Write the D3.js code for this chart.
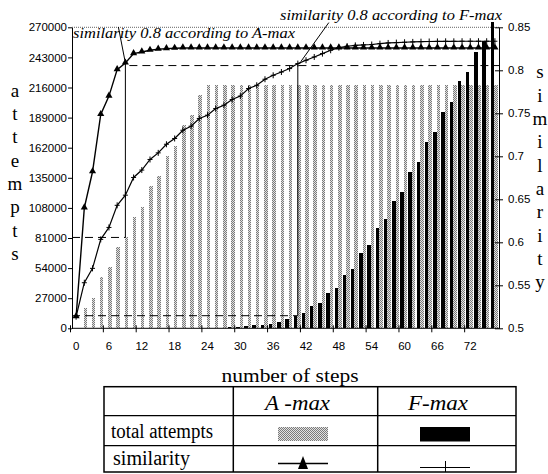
<!DOCTYPE html>
<html><head><meta charset="utf-8">
<script src="https://cdn.jsdelivr.net/npm/d3@7"></script>
<style>body{margin:0;background:#fff}svg{display:block}</style>
</head><body>
<svg id="c" width="548" height="474"></svg>
<script>
// ---------- data ----------
const steps = [0,1.5,3,4.5,6,7.5,9,10.5,12,13.5,15,16.5,18,19.5,21,22.5,24,25.5,27,28.5,30,31.5,33,34.5,36,37.5,39,40.5,42,43.5,45,46.5,48,49.5,51,52.5,54,55.5,57,58.5,60,61.5,63,64.5,66,67.5,69,70.5,72,73.5,75,76.5];
const xTickLabels = [0,6,12,18,24,30,36,42,48,54,60,66,72];
const attemptTicks = [0,27000,54000,81000,108000,135000,162000,189000,216000,243000,270000];
const simTicks = [0.5,0.55,0.6,0.65,0.7,0.75,0.8,0.85];
const seriesNames = ["A-max","F-max"];
const aMaxAttempts = [0,18500,27400,45700,54700,72700,81500,100100,109100,127700,136600,154500,163700,182400,191300,209300,
  218000,218000,218000,218000,218000,218000,218000,218000,218000,218000,218000,218000,218000,218000,218000,218000,218000,218000,
  218000,218000,218000,218000,218000,218000,218000,218000,218000,218000,218000,218000,218000,218000,218000,218000,218000,218000];
const fMaxAttempts = [0,0,0,0,0,0,0,0,0,0,0,0,0,0,0,300,400,500,600,800,
  1400,2300,2700,3200,4200,6000,8100,11300,13400,20000,23000,31900,36400,47500,53500,67300,75000,89700,98000,114200,
  122600,140300,148900,167400,175800,193700,203200,221800,230100,248100,257700,275000];
const aMaxSim = [0.5135,0.640,0.682,0.7486,0.770,0.8008,0.8085,0.8194,0.8213,0.8233,0.8245,0.8252,0.8256,
  0.826,0.826,0.826,0.826,0.826,0.826,0.826,0.826,0.826,0.826,0.826,0.826,0.826,0.826,0.826,0.826,0.826,
  0.826,0.826,0.826,0.826,0.826,0.826,0.826,0.826,0.826,0.826,0.826,0.826,0.826,0.826,0.826,0.826,0.826,0.826,0.826,0.826,0.826,0.826];
const fMaxSim = [0.5135,0.553,0.5697,0.6034,0.6173,0.643,0.6548,0.6754,0.684,0.6963,0.704,0.714,0.7207,0.7303,0.735,0.744,
  0.7478,0.7555,0.7594,0.766,0.770,0.7788,0.7826,0.7896,0.7942,0.798,0.802,0.8078,0.8117,0.8155,0.8194,0.8233,0.8264,0.828,
  0.829,0.8295,0.830,0.831,0.8318,0.8322,0.8326,0.833,0.8333,0.8335,0.8336,0.8337,0.8337,0.8338,0.8338,0.8338,0.8338,0.8338];
const markA = 6, markF = 27;      // steps where similarity 0.8 is reached
const markSimLevel = 0.8055;

// ---------- setup ----------
const svg = d3.select("#c");
const sans = "'Liberation Sans', Arial, sans-serif";
const serif = "'Liberation Serif', 'Times New Roman', serif";
const L = 72, R = 499, T = 27.3, B = 328.3;

const idx = d3.range(steps.length);
const x0 = d3.scaleBand().domain(idx).range([L, R]).padding(0);
const bw = x0.bandwidth();
const cx = i => x0(i) + bw / 2;
const x1 = d3.scaleBand().domain(["F-max","A-max"]).range([-0.2, 6.8]);
const yL = d3.scaleLinear().domain([0, 270000]).range([B, T]);
const yR = d3.scaleLinear().domain([0.5, 0.85]).range([B, T]);

// pattern for A-max bars
const defs = svg.append("defs");
const pat = defs.append("pattern").attr("id","dith").attr("patternUnits","userSpaceOnUse")
  .attr("width",2).attr("height",2);
pat.append("rect").attr("width",2).attr("height",2).attr("fill","#e2e2e2");
pat.append("rect").attr("x",0).attr("y",0).attr("width",1).attr("height",1).attr("fill","#7a7a7a");
pat.append("rect").attr("x",1).attr("y",1).attr("width",1).attr("height",1).attr("fill","#7a7a7a");

// top dotted border
svg.append("line").attr("x1",L).attr("x2",R).attr("y1",yL(270000)).attr("y2",yL(270000))
  .attr("stroke","#666").attr("stroke-width",1).attr("stroke-dasharray","1,1");

// bars
const gBars = svg.append("g").attr("shape-rendering","crispEdges");
gBars.selectAll("rect.a").data(idx).join("rect").attr("class","a")
  .attr("x", i => x0(i) + x1("A-max")).attr("width", x1.bandwidth())
  .attr("y", i => yL(aMaxAttempts[i])).attr("height", i => yL(0) - yL(aMaxAttempts[i]))
  .attr("fill","url(#dith)");
gBars.selectAll("rect.f").data(idx).join("rect").attr("class","f")
  .attr("x", i => x0(i) + x1("F-max")).attr("width", x1.bandwidth())
  .attr("y", i => yL(fMaxAttempts[i])).attr("height", i => yL(0) - yL(fMaxAttempts[i]))
  .attr("fill","#000");

// annotation lines
const ann = svg.append("g").attr("stroke","#000").attr("fill","none").attr("stroke-width",1);
ann.append("line").attr("x1",cx(markA)).attr("x2",cx(markA))
  .attr("y1",yR(aMaxSim[markA])).attr("y2",yL(aMaxAttempts[markA]));
ann.append("line").attr("x1",L).attr("x2",cx(markA))
  .attr("y1",yL(aMaxAttempts[markA])).attr("y2",yL(aMaxAttempts[markA])).attr("stroke-dasharray","8,5");
ann.append("line").attr("x1",cx(markA)+4).attr("x2",R)
  .attr("y1",yR(markSimLevel)).attr("y2",yR(markSimLevel)).attr("stroke-dasharray","8,5");
ann.append("line").attr("x1",cx(markF)).attr("x2",cx(markF))
  .attr("y1",yR(fMaxSim[markF])).attr("y2",yL(fMaxAttempts[markF]));
ann.append("line").attr("x1",L).attr("x2",cx(markF))
  .attr("y1",yL(fMaxAttempts[markF])).attr("y2",yL(fMaxAttempts[markF])).attr("stroke-dasharray","8,5");

// similarity lines
const line = arr => d3.line().x(i => cx(i)).y(i => yR(arr[i]))(idx);
svg.append("path").attr("d", line(aMaxSim)).attr("fill","none").attr("stroke","#000").attr("stroke-width",1.4);
svg.append("path").attr("d", line(fMaxSim)).attr("fill","none").attr("stroke","#000").attr("stroke-width",1.2);
const tri = d3.symbol().type(d3.symbolTriangle).size(22);
svg.append("g").selectAll("path").data(idx).join("path")
  .attr("d", tri).attr("transform", i => `translate(${cx(i)},${yR(aMaxSim[i])-0.5})`).attr("fill","#000");
svg.append("g").attr("stroke","#000").attr("stroke-width",1).selectAll("path").data(idx).join("path")
  .attr("d", i => `M${cx(i)-2.5},${yR(fMaxSim[i])}h5M${cx(i)},${yR(fMaxSim[i])-3}v6`);

// leader lines + annotation text
svg.append("line").attr("x1",cx(markA)-7).attr("y1",yR(aMaxSim[markA])-36)
  .attr("x2",cx(markA)).attr("y2",yR(aMaxSim[markA])).attr("stroke","#000");
svg.append("line").attr("x1",cx(markF)+31).attr("y1",yR(fMaxSim[markF])-41)
  .attr("x2",cx(markF)+3).attr("y2",yR(fMaxSim[markF])-2).attr("stroke","#000");
svg.append("text").attr("x",73).attr("y",38.3).attr("font-family",serif).attr("font-style","italic")
  .attr("font-size",15).attr("textLength",222).attr("lengthAdjust","spacingAndGlyphs")
  .text("similarity 0.8 according to A-max");
svg.append("text").attr("x",280).attr("y",20).attr("font-family",serif).attr("font-style","italic")
  .attr("font-size",15).attr("textLength",222).attr("lengthAdjust","spacingAndGlyphs")
  .text("similarity 0.8 according to F-max");

// axes
const axL = svg.append("g").attr("transform",`translate(${L},0)`)
  .call(d3.axisLeft(yL).tickValues(attemptTicks).tickSizeInner(4).tickSizeOuter(0).tickPadding(1)
    .tickFormat(d3.format("d")));
const axR = svg.append("g").attr("transform",`translate(${R},0)`)
  .call(d3.axisRight(yR).tickValues(simTicks).tickSizeInner(4).tickSizeOuter(0).tickPadding(5)
    .tickFormat(d => String(+d.toFixed(2))));
axR.selectAll(".tick line").attr("x1",-4);
const axB = svg.append("g").attr("transform",`translate(0,${B})`);
axB.append("line").attr("x1",L).attr("x2",R).attr("stroke","#000");
const tickIdx = xTickLabels.map(s => steps.indexOf(s));
axB.selectAll("line.t").data(tickIdx).join("line").attr("class","t")
  .attr("x1", i => x0(i) - 1.5).attr("x2", i => x0(i) - 1.5).attr("y1",-3).attr("y2",4).attr("stroke","#000");
axB.selectAll("text").data(tickIdx).join("text")
  .attr("x", i => cx(i)).attr("y", 21.5).attr("text-anchor","middle")
  .attr("font-family",sans).attr("font-size",11.5).text(i => steps[i]);
[axL, axR].forEach(a => {
  a.selectAll("text").attr("font-family",sans).attr("font-size",11.5).attr("fill","#000");
  a.selectAll("line,path").attr("stroke","#000");
});

// axis titles as stacked letters
const title = (str, xPos, y0) => svg.append("g").selectAll("text").data(str.split("")).join("text")
  .attr("x", xPos).attr("y", (d, k) => y0 + k * 23.33).attr("text-anchor","middle")
  .attr("font-family",serif).attr("font-size",19).text(d => d);
title("attempts", 15, 96.7);
title("similarity", 540, 78.3);

svg.append("text").attr("x",290).attr("y",381.5).attr("text-anchor","middle")
  .attr("font-family",serif).attr("font-size",19).attr("textLength",137).attr("lengthAdjust","spacingAndGlyphs")
  .text("number of steps");

// legend table
const tb = svg.append("g");
const colX = [104, 233.3, 377.7, 516], rowY = [386.7, 415.7, 445.7, 472];
tb.append("rect").attr("x",colX[0]).attr("y",rowY[0]).attr("width",colX[3]-colX[0]).attr("height",rowY[3]-rowY[0])
  .attr("fill","none").attr("stroke","#000").attr("stroke-width",1.5);
[1,2].forEach(k => tb.append("line").attr("x1",colX[k]).attr("x2",colX[k]).attr("y1",rowY[0]).attr("y2",rowY[3])
  .attr("stroke","#000").attr("stroke-width",1.5));
[1,2].forEach(k => tb.append("line").attr("x1",colX[0]).attr("x2",colX[3]).attr("y1",rowY[k]).attr("y2",rowY[k])
  .attr("stroke","#000").attr("stroke-width",1.2));
tb.append("text").attr("x",297.5).attr("y",410).attr("text-anchor","middle").attr("font-family",serif)
  .attr("font-style","italic").attr("font-size",21).attr("textLength",65).attr("lengthAdjust","spacingAndGlyphs").text("A -max");
tb.append("text").attr("x",438).attr("y",410).attr("text-anchor","middle").attr("font-family",serif)
  .attr("font-style","italic").attr("font-size",21).attr("textLength",60).attr("lengthAdjust","spacingAndGlyphs").text("F-max");
tb.append("text").attr("x",111).attr("y",438.3).attr("font-family",serif).attr("font-size",20)
  .attr("textLength",102).attr("lengthAdjust","spacingAndGlyphs").text("total attempts");
tb.append("text").attr("x",113).attr("y",465).attr("font-family",serif).attr("font-size",20)
  .attr("textLength",77).attr("lengthAdjust","spacingAndGlyphs").text("similarity");
tb.append("rect").attr("x",278).attr("y",426.7).attr("width",50).attr("height",14.5).attr("fill","url(#dith)")
  .attr("shape-rendering","crispEdges");
tb.append("rect").attr("x",420).attr("y",427).attr("width",50).attr("height",14.5).attr("fill","#000");
tb.append("line").attr("x1",278).attr("x2",328).attr("y1",463.5).attr("y2",463.5).attr("stroke","#000").attr("stroke-width",1.3);
tb.append("path").attr("d","M303,456L308,469L298,469Z").attr("fill","#000");
tb.append("line").attr("x1",420).attr("x2",470).attr("y1",467.5).attr("y2",467.5).attr("stroke","#000").attr("stroke-width",1);
tb.append("line").attr("x1",445.5).attr("x2",445.5).attr("y1",461).attr("y2",472).attr("stroke","#000").attr("stroke-width",1);
</script>
</body></html>
